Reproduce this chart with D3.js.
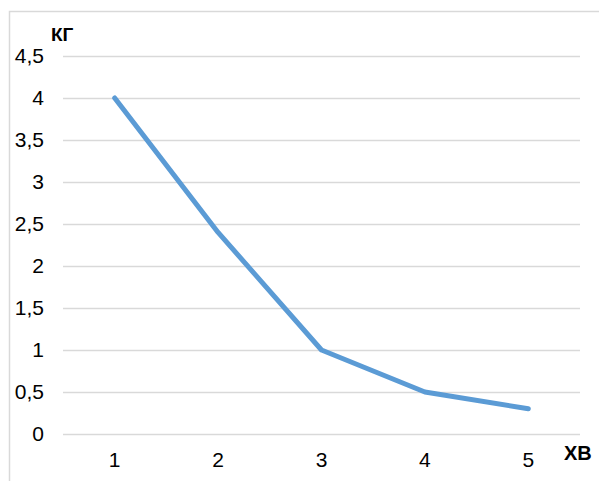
<!DOCTYPE html>
<html><head><meta charset="utf-8">
<script src="https://cdn.jsdelivr.net/npm/d3@7"></script>
<style>body{margin:0;background:#fff}svg{display:block}</style>
</head><body>
<script>
const categories = ["1","2","3","4","5"];
const values = [4, 2.4, 1, 0.5, 0.3];
const yTicks = [0,0.5,1,1.5,2,2.5,3,3.5,4,4.5];
const yTitle = "КГ";
const xTitle = "ХВ";

const W = 599, H = 481;
const FONT = "Liberation Sans, Arial, sans-serif";
const svg = d3.select("body").append("svg").attr("width", W).attr("height", H);
svg.append("rect").attr("x", 9.5).attr("y", 11.5).attr("width", 620).attr("height", 500)
  .attr("fill", "#fff").attr("stroke", "#d9d9d9").attr("stroke-width", 1.5);

const x = d3.scaleBand().domain(categories).range([63, 580]);
const y = d3.scaleLinear().domain([0, 4.5]).range([434, 56]);

const fmt = d => String(d).replace(".", ",");
const ya = svg.append("g").attr("transform", "translate(63,0)")
  .call(d3.axisLeft(y).tickValues(yTicks).tickSize(-517).tickFormat(fmt).tickPadding(19));
ya.select(".domain").remove();
ya.selectAll(".tick line").attr("stroke", "#d9d9d9").attr("stroke-width", 1.5);
ya.selectAll(".tick text").attr("font-family", FONT).style("font-size", "21px").attr("fill", "#000");

const xa = svg.append("g").attr("transform", "translate(0,434)")
  .call(d3.axisBottom(x).tickSize(0).tickPadding(18));
xa.select(".domain").remove();
xa.selectAll(".tick text").attr("font-family", FONT).style("font-size", "21px").attr("fill", "#000");

const line = d3.line().x((d, i) => x(categories[i]) + x.bandwidth() / 2).y(d => y(d));
svg.append("path").datum(values).attr("d", line).attr("fill", "none")
  .attr("stroke", "#5B9BD5").attr("stroke-width", 5).attr("stroke-linejoin", "round").attr("stroke-linecap", "round");

svg.append("text").attr("x", 51).attr("y", 41).text(yTitle)
  .attr("font-family", FONT).style("font-size", "19px").attr("font-weight", "bold");
svg.append("text").attr("x", 564).attr("y", 460).text(xTitle)
  .attr("font-family", FONT).style("font-size", "20px").attr("font-weight", "bold");
</script>
</body></html>
